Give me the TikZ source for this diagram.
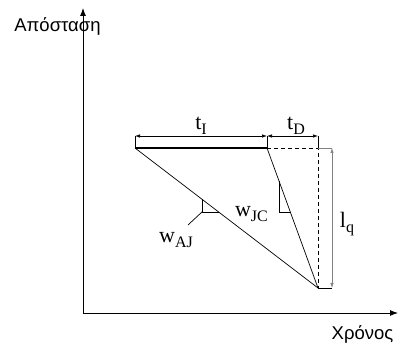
\documentclass[tikz,border=0pt]{standalone}
\usepackage{fontspec}
\setmainfont{Liberation Serif}
\setsansfont{Liberation Sans}
\usetikzlibrary{arrows.meta,calc}

\newcommand{\lowsub}[1]{\raisebox{-5pt}{\fontsize{16}{18}\selectfont #1}}

\tikzset{
  axis/.style={line width=0.9pt, -{Latex[length=8pt,width=6pt]}},
  dimline/.style={line width=0.7pt, {Latex[length=5pt,width=3.5pt]}-{Latex[length=5pt,width=3.5pt]}},
  thinline/.style={line width=0.7pt},
  axislabel/.style={font=\sffamily\fontsize{18.5}{20}\selectfont, anchor=base},
  symlabel/.style={font=\fontsize{22}{24}\selectfont, anchor=base, inner sep=0pt}
}

\begin{document}
\begin{tikzpicture}[x=1pt, y=-1pt]
    \useasboundingbox (0,0) rectangle (402,347);

    % --- Axes ---
    \coordinate (O) at (83,313);
    \coordinate (ytip) at (83,8);
    \coordinate (xtip) at (398,313);
    \draw[axis] (O) -- (ytip);
    \draw[axis] (O) -- (xtip);
    \node[axislabel] (ylab) at (57.5,32) {Απόσταση};
    \node[axislabel] (xlab) at (362.5,340) {Χρόνος};

    % --- Trajectory points ---
    \coordinate (A) at (135,148);
    \coordinate (J) at (267,148);
    \coordinate (C) at (318,148);
    \coordinate (B) at (318,288);

    % --- Trajectory ---
    \draw[line width=2.2pt] (A) -- (J);
    \draw[thinline, dashed, dash pattern=on 4pt off 3pt] (J) -- (C) -- (B);
    \draw[thinline] (A) -- (B);
    \draw[thinline] (J) -- (B);

    % --- Time dimensions t_I and t_D ---
    \coordinate (dA) at (135,136);
    \coordinate (dJ) at (267,136);
    \coordinate (dC) at (318,136);
    \draw[thinline] (A) -- (dA);
    \draw[thinline] (J) -- (dJ);
    \draw[thinline] (C) -- (dC);
    \draw[dimline] (dA) -- (dJ);
    \draw[dimline] (dJ) -- (dC);
    \node[symlabel] (tI) at (201,130) {t\lowsub{I}};
    \node[symlabel] (tD) at (296,130) {t\lowsub{D}};

    % --- Distance dimension l_q ---
    \coordinate (qT) at (332,148);
    \coordinate (qB) at (332,288);
    \draw[thinline, gray] (C) -- (qT);
    \draw[thinline] (B) -- (qB);
    \draw[dimline, gray] (qT) -- (qB);
    \node[symlabel] (lq) at (347,228) {l\lowsub{q}};

    % --- Slope marks ---
    \coordinate (s1) at ($(A)!0.366!(B)$);
    \coordinate (s1e) at ($(A)!0.457!(B)$);
    \coordinate (s1c) at (s1 |- s1e);
    \draw[thinline] (s1) -- (s1c) -- (s1e);
    \coordinate (s2) at ($(J)!0.235!(B)$);
    \coordinate (s2e) at ($(J)!0.457!(B)$);
    \coordinate (s2c) at (s2 |- s2e);
    \draw[thinline] (s2) -- (s2c) -- (s2e);

    % --- Slope labels ---
    \coordinate (lead) at (188,225);
    \draw[thinline] (s1c) -- (lead);
    \node[symlabel] (wAJ) at (176,243) {w\lowsub{AJ}};
    \node[symlabel] (wJC) at (251.5,217) {w\lowsub{JC}};
\end{tikzpicture}
\end{document}
